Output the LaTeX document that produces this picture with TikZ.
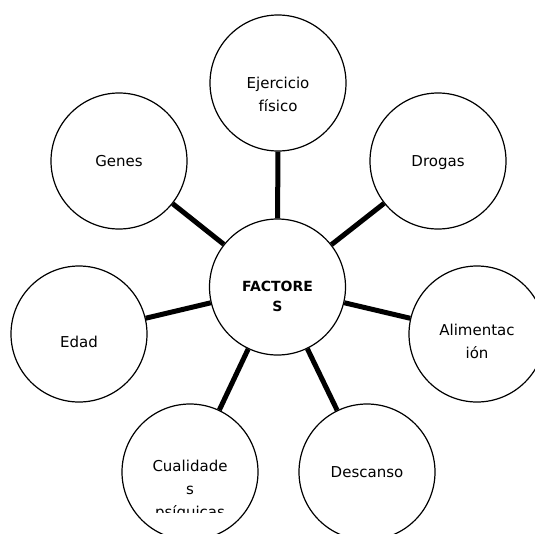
\documentclass[tikz,border=0pt]{standalone}
\usepackage{fontspec}
\setmainfont{DejaVu Sans}
\begin{document}
\begin{tikzpicture}[x=1pt,y=-1pt,
    bubble/.style={circle,draw,line width=1.2pt,minimum size=136pt,inner sep=0pt},
    spoke/.style={line width=5pt},
    tag/.style={anchor=north,align=center,inner sep=0pt,font=\fontsize{15}{23}\selectfont},
    bigtag/.style={tag,font=\fontsize{14}{20}\selectfont\bfseries}]
    \useasboundingbox (0,0) rectangle (535,533);
    \clip (0,0) rectangle (535,533);
    % circles
    \node[bubble] (fac) at (277.5,287) {};
    \node[bubble] (ejer) at (278,83) {};
    \node[bubble] (genes) at (119,161) {};
    \node[bubble] (drog) at (438,161) {};
    \node[bubble] (edad) at (79,334) {};
    \node[bubble] (alim) at (477,334) {};
    \node[bubble] (cual) at (190,472) {};
    \node[bubble] (desc) at (367,472) {};
    % spokes
    \draw[spoke] (fac) -- (ejer);
    \draw[spoke] (fac) -- (genes);
    \draw[spoke] (fac) -- (drog);
    \draw[spoke] (fac) -- (edad);
    \draw[spoke] (fac) -- (alim);
    \draw[spoke] (fac) -- (cual);
    \draw[spoke] (fac) -- (desc);
    % texts
    \node[bigtag,yshift=6pt] (fac-t) at (fac.center) {FACTORE\\S};
    \node[tag,yshift=6pt] (ejer-t) at (ejer.center) {Ejercicio\\físico};
    \node[tag,yshift=6pt] (genes-t) at (genes.center) {Genes};
    \node[tag,yshift=6pt] (drog-t) at (drog.center) {Drogas};
    \node[tag,yshift=-2pt] (edad-t) at (edad.center) {Edad};
    \node[tag,yshift=10pt] (alim-t) at (alim.center) {Alimentac\\ión};
    \node[tag,yshift=6pt] (desc-t) at (desc.center) {Descanso};
    \begin{scope}
        \clip (100,400) rectangle (280,512);
        \node[tag,yshift=12pt] (cual-t) at (cual.center) {Cualidade\\s\\psíquicas};
    \end{scope}
\end{tikzpicture}
\end{document}
